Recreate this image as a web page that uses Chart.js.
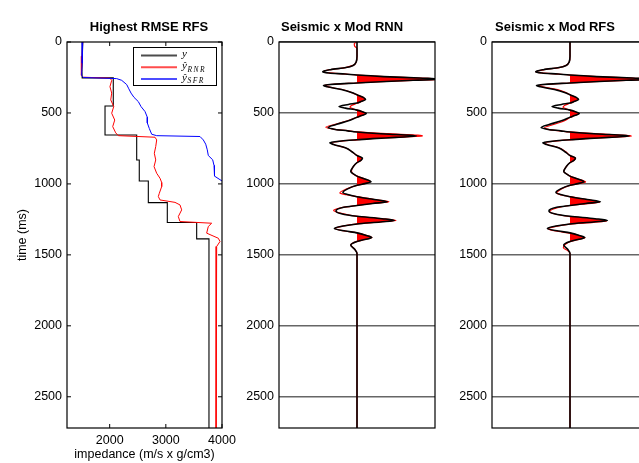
<!DOCTYPE html>
<html>
<head>
<meta charset="utf-8">
<script src="https://cdn.jsdelivr.net/npm/chart.js@4.4.0/dist/chart.umd.min.js"></script>
<style>
html, body { margin: 0; padding: 0; background: #fff; overflow: hidden; }
#wrap { position: relative; width: 639px; height: 463px; overflow: hidden; }
canvas { position: absolute; top: 0; }
</style>
</head>
<body>
<div id="wrap">
  <canvas id="c1" width="238" height="463" style="left:0px"></canvas>
  <canvas id="c2" width="200" height="463" style="left:240px"></canvas>
  <canvas id="c3" width="200" height="463" style="left:452px"></canvas>
</div>
<script>
// ---- impedance logs: time (ms) / impedance (m/s x g/cm3)
var logT = [0, 120, 200, 253, 253, 451, 451, 655, 655, 831, 831, 979, 979, 1132, 1132, 1272, 1272, 1387, 1387, 2720];
var logY = [1520, 1512, 1505, 1510, 2064, 2064, 1917, 1917, 2481, 2481, 2527, 2527, 2688, 2688, 3026, 3026, 3549, 3549, 3768, 3768];

var rnrT = [0, 100, 197, 235, 248, 255, 270, 315, 360, 408, 455, 502, 550, 596, 640, 660, 671, 690, 737, 784, 831, 878, 925, 960, 990, 1019, 1066, 1089, 1113, 1130, 1148, 1183, 1230, 1265, 1277, 1300, 1347, 1383, 1406, 1441, 1470, 2720];
var rnrY = [1520, 1507, 1502, 1490, 1530, 2005, 2036, 2005, 2036, 2019, 2072, 2036, 2090, 2054, 2107, 2154, 2807, 2837, 2820, 2795, 2820, 2790, 2837, 2896, 2926, 2926, 2884, 2866, 2896, 3163, 3252, 3282, 3222, 3252, 3816, 3756, 3727, 3935, 3964, 3905, 3895, 3895];

var sfrT = [0, 150, 235, 250, 258, 270, 300, 330, 360, 390, 420, 455, 490, 530, 570, 610, 650, 660, 666, 690, 720, 760, 800, 830, 870, 910, 945, 970, 985, 1010];
var sfrY = [1520, 1510, 1500, 1530, 2125, 2214, 2303, 2341, 2380, 2433, 2510, 2558, 2629, 2670, 2670, 2706, 2748, 2837, 3608, 3667, 3710, 3738, 3756, 3834, 3858, 3858, 3875, 3964, 4023, 4150];

// ---- seismic trace (black) and modelled traces (red)
var seisT = [0, 100, 140, 165, 180, 195, 209, 218, 226, 233, 244, 254, 262, 270, 280, 289, 297, 306, 316, 335, 360, 372, 390, 405, 420, 430, 440, 455, 466, 480, 492, 504, 518, 530, 555, 580, 603, 616, 626, 634, 648, 657, 663, 672, 681, 689, 698, 710, 722, 745, 775, 800, 818, 835, 850, 880, 912, 935, 945, 965, 985, 998, 1010, 1035, 1060, 1075, 1090, 1110, 1126, 1138, 1152, 1165, 1190, 1210, 1228, 1245, 1258, 1268, 1282, 1297, 1314, 1332, 1345, 1363, 1378, 1392, 1405, 1430, 1460, 1490, 2720];
var seis = [0, 0, -0.01, -0.05, -0.14, -0.34, -0.44, -0.36, -0.15, 0, 0.34, 0.8, 1.1, 0.72, 0.3, 0, -0.28, -0.43, -0.38, -0.2, -0.05, 0, 0.08, 0.11, 0.05, 0, -0.11, -0.23, -0.15, 0, 0.07, 0.12, 0.06, 0, -0.11, -0.26, -0.37, -0.28, -0.12, 0, 0.36, 0.68, 0.76, 0.5, 0.2, 0, -0.2, -0.35, -0.3, -0.15, -0.06, 0, 0.07, 0.05, 0, -0.05, -0.08, -0.03, 0, 0.1, 0.18, 0.1, 0, -0.12, -0.18, -0.12, 0, 0.22, 0.39, 0.2, 0, -0.17, -0.27, -0.2, 0, 0.32, 0.48, 0.3, 0, -0.18, -0.29, -0.15, 0, 0.12, 0.19, 0.1, 0, -0.08, -0.03, 0, 0];

var rnnT = [0, 12, 30, 45, 100, 140, 165, 180, 195, 209, 218, 226, 233, 244, 254, 262, 270, 280, 289, 297, 306, 316, 335, 360, 372, 390, 405, 420, 432, 448, 460, 470, 480, 492, 504, 518, 530, 555, 580, 601, 614, 625, 633, 646, 656, 662, 670, 680, 689, 698, 710, 722, 745, 775, 800, 818, 835, 850, 880, 905, 925, 945, 965, 985, 998, 1010, 1035, 1064, 1076, 1090, 1110, 1126, 1138, 1152, 1165, 1188, 1208, 1228, 1245, 1258, 1268, 1282, 1297, 1314, 1332, 1345, 1363, 1378, 1392, 1405, 1430, 1460, 1490, 2720];
var rnn = [0, -0.035, -0.03, 0, 0, -0.01, -0.05, -0.15, -0.35, -0.43, -0.35, -0.14, 0, 0.35, 0.82, 1.1, 0.72, 0.3, 0, -0.28, -0.42, -0.37, -0.19, -0.05, 0, 0.08, 0.1, 0.05, 0, -0.07, -0.09, -0.05, 0, 0.07, 0.11, 0.06, 0, -0.12, -0.28, -0.4, -0.3, -0.12, 0, 0.4, 0.78, 0.84, 0.6, 0.22, 0, -0.2, -0.33, -0.3, -0.15, -0.06, 0, 0.06, 0.05, 0, -0.05, -0.07, -0.06, 0, 0.1, 0.17, 0.1, 0, -0.13, -0.22, -0.14, 0, 0.23, 0.41, 0.2, 0, -0.18, -0.3, -0.2, 0, 0.33, 0.5, 0.3, 0, -0.18, -0.28, -0.15, 0, 0.12, 0.19, 0.1, 0, -0.08, -0.03, 0, 0];

var rfsT = [0, 100, 140, 165, 180, 195, 209, 218, 226, 233, 244, 254, 262, 270, 280, 289, 297, 307, 318, 335, 360, 372, 390, 405, 420, 432, 447, 460, 470, 480, 492, 505, 518, 532, 555, 580, 606, 617, 627, 634, 648, 657, 662, 671, 681, 689, 698, 711, 722, 745, 775, 800, 818, 835, 850, 880, 912, 935, 945, 965, 987, 998, 1010, 1035, 1066, 1078, 1090, 1110, 1130, 1140, 1152, 1168, 1196, 1214, 1230, 1247, 1262, 1271, 1284, 1299, 1318, 1335, 1347, 1364, 1380, 1393, 1407, 1450, 1470, 1490, 2720];
var rfs = [0, 0, -0.01, -0.05, -0.14, -0.33, -0.44, -0.36, -0.15, 0, 0.34, 0.8, 1.1, 0.72, 0.3, 0, -0.26, -0.39, -0.33, -0.16, -0.04, 0, 0.07, 0.1, 0.05, 0, -0.07, -0.09, -0.05, 0, 0.07, 0.11, 0.06, 0, -0.07, -0.2, -0.33, -0.26, -0.11, 0, 0.38, 0.72, 0.79, 0.55, 0.2, 0, -0.19, -0.33, -0.29, -0.14, -0.05, 0, 0.07, 0.05, 0, -0.05, -0.08, -0.03, 0, 0.1, 0.2, 0.11, 0, -0.11, -0.17, -0.11, 0, 0.22, 0.38, 0.2, 0, -0.16, -0.26, -0.18, 0, 0.31, 0.47, 0.3, 0, -0.18, -0.28, -0.15, 0, 0.12, 0.19, 0.1, 0, -0.085, -0.03, 0, 0];

var timeTicks = [0, 500, 1000, 1500, 2000, 2500];
var impTicks = [2000, 3000, 4000];
var legendMain = ['y', '\u0177', '\u0177'];
var legendSub = ['', 'RNR', 'SFR'];

var FONT = '"Liberation Sans", Arial, Helvetica, sans-serif';

function pts(tArr, vArr) {
    return tArr.map(function (t, i) { return {x: vArr[i], y: t}; });
}
function posPts(tArr, vArr) {
    // only the positive lobes, gaps elsewhere, for the red fill
    return tArr.map(function (t, i) { return {x: vArr[i] >= 0 ? vArr[i] : null, y: t}; });
}
function plain(v) { return String(v); }

var framePlugin = {
    id: 'frame',
    afterDatasetsDraw: function (chart, args, opts) {
        var a = chart.chartArea, ctx = chart.ctx;
        ctx.save();
        ctx.strokeStyle = '#000';
        ctx.lineWidth = 1.2;
        ctx.strokeRect(a.left, a.top, a.right - a.left, a.bottom - a.top);
        if (opts.ticks) {
            ctx.lineWidth = 1;
            var ys = chart.scales.y, xs = chart.scales.x;
            ctx.beginPath();
            ys.ticks.forEach(function (t) {
                var p = ys.getPixelForValue(t.value);
                ctx.moveTo(a.left, p); ctx.lineTo(a.left + 4, p);
                ctx.moveTo(a.right, p); ctx.lineTo(a.right - 4, p);
            });
            xs.ticks.forEach(function (t) {
                var p = xs.getPixelForValue(t.value);
                ctx.moveTo(p, a.bottom); ctx.lineTo(p, a.bottom - 4);
                ctx.moveTo(p, a.top); ctx.lineTo(p, a.top + 4);
            });
            ctx.stroke();
        }
        ctx.restore();
    }
};

var titlePlugin = {
    id: 'ptitle',
    afterDraw: function (chart, args, opts) {
        var ctx = chart.ctx;
        ctx.save();
        ctx.font = 'bold 13px ' + FONT;
        ctx.fillStyle = '#000';
        ctx.textAlign = 'center';
        ctx.textBaseline = 'middle';
        ctx.fillText(opts.text, chart.chartArea.left + opts.dx, 27.5);
        ctx.restore();
    }
};

var legendPlugin = {
    id: 'mlegend',
    afterDatasetsDraw: function (chart) {
        var a = chart.chartArea, ctx = chart.ctx;
        var bx = a.right - 89, by = a.top + 5, bw = 83, bh = 38;
        ctx.save();
        ctx.fillStyle = '#fff';
        ctx.fillRect(bx, by, bw, bh);
        ctx.strokeStyle = '#000';
        ctx.lineWidth = 1;
        ctx.strokeRect(bx + 0.5, by + 0.5, bw, bh);
        chart.data.datasets.forEach(function (ds, i) {
            var ry = by + 8.5 + i * 11.7;
            ctx.globalAlpha = 0.7;
            ctx.strokeStyle = ds.borderColor;
            ctx.lineWidth = 2;
            ctx.beginPath();
            ctx.moveTo(bx + 8, ry); ctx.lineTo(bx + 44, ry);
            ctx.stroke();
            ctx.globalAlpha = 1;
            ctx.fillStyle = '#000';
            ctx.textBaseline = 'middle';
            ctx.font = 'italic 11px "Liberation Serif", serif';
            ctx.fillText(legendMain[i], bx + 49, ry - 1);
            if (legendSub[i]) {
                var w = ctx.measureText(legendMain[i]).width;
                ctx.font = 'italic 7.5px "Liberation Serif", serif';
                if ('letterSpacing' in ctx) ctx.letterSpacing = '1.5px';
                ctx.fillText(legendSub[i], bx + 49 + w + 0.5, ry + 2.5);
                if ('letterSpacing' in ctx) ctx.letterSpacing = '0px';
            }
        });
        ctx.restore();
    }
};

function setTicks(list) {
    return function (s) { s.ticks = list.map(function (v) { return {value: v}; }); };
}

// ---- left panel: impedance logs
new Chart(document.getElementById('c1'), {
    type: 'line',
    data: {
        datasets: [
            {label: 'y', data: pts(logT, logY), borderColor: '#000', borderWidth: 1.1, pointRadius: 0, fill: false, order: 2},
            {label: 'RNR', data: pts(rnrT, rnrY), borderColor: '#ff0000', borderWidth: 1, pointRadius: 0, fill: false, order: 1},
            {label: 'SFR', data: pts(sfrT, sfrY), borderColor: '#0000ff', borderWidth: 1, pointRadius: 0, fill: false, order: 0}
        ]
    },
    options: {
        indexAxis: 'y',
        responsive: false,
        animation: false,
        events: [],
        layout: {padding: {top: 42, right: 16, bottom: 0, left: 0}},
        scales: {
            x: {
                type: 'linear', position: 'bottom', min: 1240, max: 4000,
                afterBuildTicks: setTicks(impTicks),
                afterFit: function (s) { s.height = 35; s.paddingLeft = 0; s.paddingRight = 0; },
                grid: {display: false, drawTicks: false}, border: {display: false},
                ticks: {padding: 5, maxRotation: 0, color: '#000', font: {family: FONT, size: 12.5}, callback: plain},
                title: {display: true, text: 'impedance (m/s x g/cm3)', color: '#000', font: {family: FONT, size: 12.5}, padding: {top: 0, bottom: 1}}
            },
            y: {
                type: 'linear', reverse: true, min: 0, max: 2720,
                afterBuildTicks: setTicks(timeTicks),
                afterFit: function (s) { s.width = 67; s.paddingTop = 0; s.paddingBottom = 0; },
                grid: {display: false, drawTicks: false}, border: {display: false},
                ticks: {padding: 5, color: '#000', font: {family: FONT, size: 12.5}, callback: plain},
                title: {display: true, text: 'time (ms)', color: '#000', font: {family: FONT, size: 12.5}, padding: {top: 15, bottom: 0}}
            }
        },
        plugins: {
            legend: {display: false},
            tooltip: {enabled: false},
            frame: {ticks: true},
            ptitle: {text: 'Highest RMSE RFS', dx: 82}
        }
    },
    plugins: [framePlugin, legendPlugin, titlePlugin]
});

// ---- seismic wiggle panels
function traceChart(id, modelT, model, titleText, yWidth, padRight) {
    return new Chart(document.getElementById(id), {
        type: 'line',
        data: {
            datasets: [
                {label: 'fill', data: posPts(modelT, model), borderWidth: 0, borderColor: '#ff0000', backgroundColor: '#ff0000',
                    fill: {value: 0}, pointRadius: 0, cubicInterpolationMode: 'monotone', spanGaps: false, order: 2},
                {label: 'model', data: pts(modelT, model), borderColor: '#ff0000', borderWidth: 1.2, pointRadius: 0,
                    fill: false, cubicInterpolationMode: 'monotone', order: 1},
                {label: 'seismic', data: pts(seisT, seis), borderColor: '#000', borderWidth: 1.6, pointRadius: 0,
                    fill: false, cubicInterpolationMode: 'monotone', order: 0}
            ]
        },
        options: {
            indexAxis: 'y',
            responsive: false,
            animation: false,
            events: [],
            layout: {padding: {top: 42, right: padRight, bottom: 35, left: 0}},
            scales: {
                x: {type: 'linear', min: -1, max: 1, display: false},
                y: {
                    type: 'linear', reverse: true, min: 0, max: 2720,
                    afterBuildTicks: setTicks(timeTicks),
                    afterFit: function (s) { s.width = yWidth; s.paddingTop = 0; s.paddingBottom = 0; },
                    grid: {color: '#666', lineWidth: 1.4, drawTicks: false},
                    border: {display: false},
                    ticks: {padding: 5, color: '#000', font: {family: FONT, size: 12.5}, callback: plain}
                }
            },
            plugins: {
                legend: {display: false},
                tooltip: {enabled: false},
                frame: {ticks: false},
                ptitle: {text: titleText, dx: 63}
            }
        },
        plugins: [framePlugin, titlePlugin]
    });
}

traceChart('c2', rnnT, rnn, 'Seismic x Mod RNN', 39, 5);
traceChart('c3', rfsT, rfs, 'Seismic x Mod RFS', 40, 4);
</script>
</body>
</html>
